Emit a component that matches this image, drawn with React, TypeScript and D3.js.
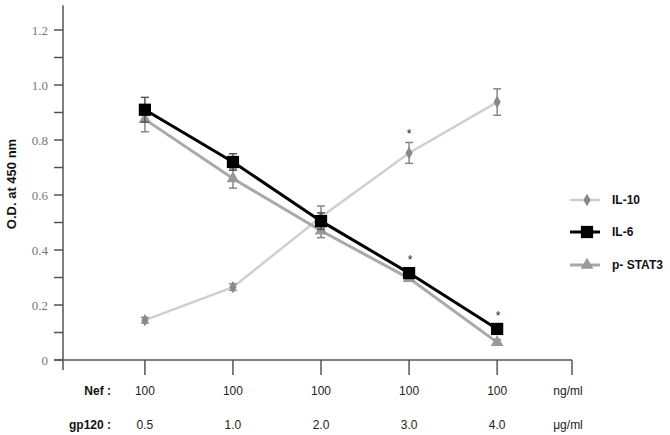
import React from "react";
import * as d3 from "d3";

const nefLabels = ["100", "100", "100", "100", "100"];
const gpLabels = ["0.5", "1.0", "2.0", "3.0", "4.0"];
const yTicks = [0, 0.2, 0.4, 0.6, 0.8, 1.0, 1.2];
const yMinor = [0.1, 0.3, 0.5, 0.7, 0.9, 1.1];

const il10 = [0.145, 0.265, 0.52, 0.753, 0.938];
const il10Err = [0.01, 0.012, 0.04, 0.038, 0.048];
const il6 = [0.91, 0.72, 0.505, 0.316, 0.113];
const il6Err = [0.045, 0.03, 0.03, 0.01, 0.01];
const stat3 = [0.875, 0.66, 0.47, 0.297, 0.064];
const stat3Err = [0.045, 0.035, 0.025, 0.01, 0.01];
const il10Stars = [false, false, false, true, false];
const il6Stars = [false, false, false, true, true];

const seriesNames = ["IL-10", "IL-6", "p- STAT3"];

export default function App() {
  const x = d3.scaleLinear().domain([-0.93, 4.85]).range([63, 572]);
  const y = d3.scaleLinear().domain([0, 1.3]).range([360, 2.5]);
  const idx = d3.range(5);
  const line = d3
    .line<number>()
    .x((_, i) => x(i))
    .y((d) => y(d));

  const axisColor = "#555";
  const sans = "'Liberation Sans', Arial, sans-serif";

  const diamond = d3.symbol().type(d3.symbolDiamond).size(45)() as string;
  const square = d3.symbol().type(d3.symbolSquare).size(150)() as string;
  const triangle = d3.symbol().type(d3.symbolTriangle).size(70)() as string;

  const errBars = (vals: number[], errs: number[], color: string, key: string) =>
    idx.map((i) => (
      <g key={key + i} stroke={color} strokeWidth={1.5}>
        <line x1={x(i)} x2={x(i)} y1={y(vals[i] - errs[i])} y2={y(vals[i] + errs[i])} />
        <line x1={x(i) - 4} x2={x(i) + 4} y1={y(vals[i] - errs[i])} y2={y(vals[i] - errs[i])} />
        <line x1={x(i) - 4} x2={x(i) + 4} y1={y(vals[i] + errs[i])} y2={y(vals[i] + errs[i])} />
      </g>
    ));

  const legendY = [200, 232, 265];

  return (
    <svg
      width={670}
      height={435}
      style={{ position: "absolute", left: 0, top: 0, background: "#fff" }}
    >
      <rect width={670} height={435} fill="#fff" />
      {/* Y axis */}
      <line x1={63} x2={63} y1={y(1.29)} y2={370} stroke={axisColor} strokeWidth={1.5} />
      {yTicks.map((t) => (
        <g key={"yt" + t}>
          <line x1={54} x2={63} y1={y(t)} y2={y(t)} stroke={axisColor} strokeWidth={1.5} />
          <text
            x={48}
            y={y(t)}
            dy="0.35em"
            textAnchor="end"
            fontFamily="'Liberation Serif', 'Times New Roman', serif"
            fontSize={13}
            fill="#777"
          >
            {t === 0 ? "0" : d3.format(".1f")(t)}
          </text>
        </g>
      ))}
      {yMinor.map((t) => (
        <line key={"ym" + t} x1={54} x2={63} y1={y(t)} y2={y(t)} stroke={axisColor} strokeWidth={1.5} />
      ))}
      <text
        transform={`translate(16,${y(0.64)}) rotate(-90)`}
        textAnchor="middle"
        fontFamily={sans}
        fontWeight="bold"
        fontSize={13}
        fill="#111"
      >
        O.D. at 450 nm
      </text>

      {/* X axis */}
      <line x1={54} x2={572} y1={y(0)} y2={y(0)} stroke={axisColor} strokeWidth={1.5} />
      {idx.map((i) => (
        <line key={"xt" + i} x1={x(i)} x2={x(i)} y1={y(0)} y2={y(0) + 15} stroke={axisColor} strokeWidth={1.5} />
      ))}
      <line x1={572} x2={572} y1={y(0)} y2={y(0) + 15} stroke={axisColor} strokeWidth={1.5} />
      {idx.map((i) => (
        <g key={"xl" + i} fontFamily={sans} fontSize={12} fill="#222" textAnchor="middle">
          <text x={x(i)} y={395}>{nefLabels[i]}</text>
          <text x={x(i)} y={429}>{gpLabels[i]}</text>
        </g>
      ))}
      <text x={568} y={395} fontFamily={sans} fontSize={12} fill="#222" textAnchor="middle">ng/ml</text>
      <text x={568} y={429} fontFamily={sans} fontSize={12} fill="#222" textAnchor="middle">μg/ml</text>
      <text x={111} y={395} fontFamily={sans} fontSize={12} fontWeight="bold" fill="#111" textAnchor="end">Nef  :</text>
      <text x={111} y={429} fontFamily={sans} fontSize={12} fontWeight="bold" fill="#111" textAnchor="end">gp120 :</text>

      {/* IL-10 */}
      <path d={line(il10) as string} fill="none" stroke="#cfcfcf" strokeWidth={2.5} />
      {errBars(il10, il10Err, "#888", "e10")}
      {idx.map((i) => (
        <path key={"d" + i} d={diamond} transform={`translate(${x(i)},${y(il10[i])})`} fill="#888" />
      ))}

      {/* p-STAT3 */}
      <path d={line(stat3) as string} fill="none" stroke="#a9a9a9" strokeWidth={3} />
      {errBars(stat3, stat3Err, "#888", "es")}
      {idx.map((i) => (
        <path key={"t" + i} d={triangle} transform={`translate(${x(i)},${y(stat3[i])})`} fill="#999" />
      ))}

      {/* IL-6 */}
      <path d={line(il6) as string} fill="none" stroke="#000" strokeWidth={3} />
      {errBars(il6, il6Err, "#555", "e6")}
      {idx.map((i) => (
        <path key={"s" + i} d={square} transform={`translate(${x(i)},${y(il6[i])})`} fill="#000" />
      ))}

      {/* asterisks */}
      {idx.map((i) =>
        il10Stars[i] ? (
          <text key={"a10" + i} x={x(i)} y={y(il10[i] + il10Err[i]) - 4} textAnchor="middle" fontFamily={sans} fontSize={12} fill="#222">*</text>
        ) : null
      )}
      {idx.map((i) =>
        il6Stars[i] ? (
          <text key={"a6" + i} x={x(i) + 1} y={y(il6[i]) - 9} textAnchor="middle" fontFamily={sans} fontSize={12} fill="#222">*</text>
        ) : null
      )}

      {/* Legend */}
      <g>
        <line x1={570} x2={600} y1={legendY[0]} y2={legendY[0]} stroke="#cfcfcf" strokeWidth={2.5} />
        <path d={diamond} transform={`translate(587,${legendY[0]})`} fill="#888" />
        <line x1={570} x2={600} y1={legendY[1]} y2={legendY[1]} stroke="#000" strokeWidth={3} />
        <path d={square} transform={`translate(587,${legendY[1]})`} fill="#000" />
        <line x1={570} x2={600} y1={legendY[2]} y2={legendY[2]} stroke="#a9a9a9" strokeWidth={3} />
        <path d={triangle} transform={`translate(587,${legendY[2]})`} fill="#999" />
        {seriesNames.map((n, i) => (
          <text key={n} x={612} y={legendY[i]} dy="0.35em" fontFamily={sans} fontWeight="bold" fontSize={12} fill="#111">
            {n}
          </text>
        ))}
      </g>
    </svg>
  );
}
